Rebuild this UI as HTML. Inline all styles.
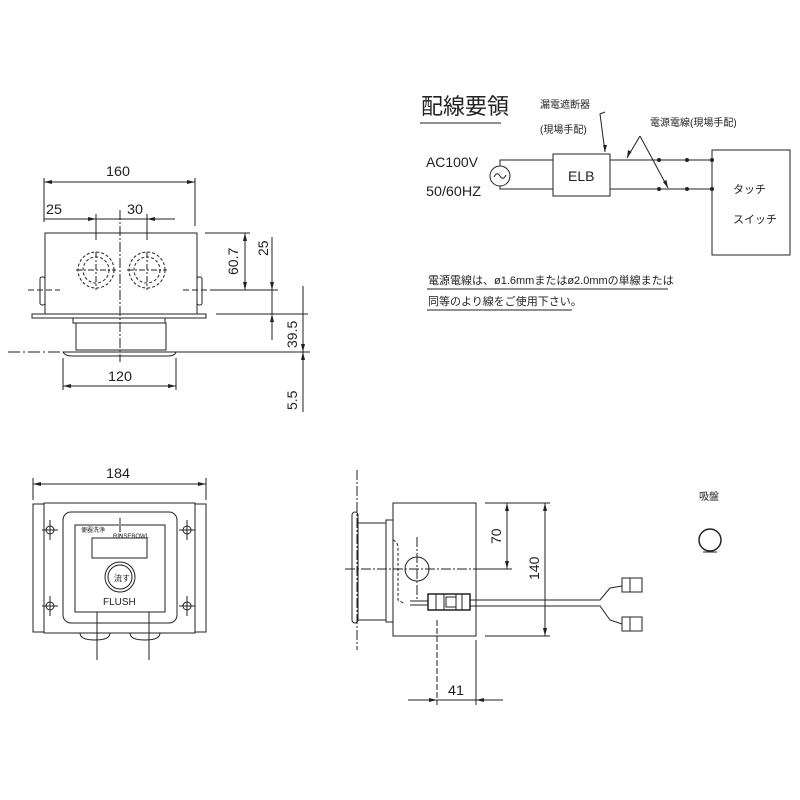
<!DOCTYPE html>
<html><head><meta charset="utf-8"><style>
body{margin:0;background:#fff}
svg{display:block}
text{font-family:"Liberation Sans","Noto Sans CJK JP",sans-serif;fill:#222}
</style></head><body>
<svg width="800" height="800" viewBox="0 0 800 800" xmlns="http://www.w3.org/2000/svg">
<g stroke="#222" stroke-width="1" fill="none">
<!-- TOP VIEW -->
<line x1="44" y1="178" x2="44" y2="222"/><line x1="195" y1="178" x2="195" y2="226"/>
<line x1="44" y1="182" x2="195" y2="182"/>
<line x1="44" y1="219" x2="175" y2="219"/>
<line x1="96" y1="214" x2="96" y2="240"/><line x1="147" y1="214" x2="147" y2="240"/>
<rect x="45" y="233" width="152" height="81"/>
<rect x="32" y="314" width="174" height="4"/>
<rect x="40" y="277" width="5" height="28" rx="2"/><rect x="197" y="277" width="5" height="28" rx="2"/>
<circle cx="96" cy="270" r="18" stroke-dasharray="3 2"/><circle cx="96" cy="270" r="13" stroke-dasharray="3 2"/>
<circle cx="147" cy="270" r="18" stroke-dasharray="3 2"/><circle cx="147" cy="270" r="13" stroke-dasharray="3 2"/>
<line x1="76" y1="270" x2="116" y2="270" stroke-dasharray="6 2 2 2"/><line x1="96" y1="252" x2="96" y2="290" stroke-dasharray="6 2 2 2"/>
<line x1="127" y1="270" x2="167" y2="270" stroke-dasharray="6 2 2 2"/><line x1="147" y1="252" x2="147" y2="290" stroke-dasharray="6 2 2 2"/>
<line x1="120" y1="210" x2="120" y2="362" stroke-dasharray="10 2 2 2"/>
<line x1="28" y1="290" x2="60" y2="290" stroke-dasharray="6 3"/><line x1="183" y1="290" x2="215" y2="290" stroke-dasharray="6 3"/>
<path d="M73 318 L73 323 L165 323 L165 318"/>
<rect x="76" y="323" width="90" height="27"/>
<path d="M63 352 Q65 356 72 356 L168 356 Q175 356 176 352 Z"/>
<line x1="8" y1="352" x2="60" y2="352" stroke-dasharray="12 3 2 3"/>
<line x1="176" y1="352" x2="310" y2="352"/>
<line x1="63" y1="358" x2="63" y2="390"/><line x1="176" y1="358" x2="176" y2="390"/>
<line x1="63" y1="386" x2="176" y2="386"/>
<line x1="205" y1="233" x2="250" y2="233"/>
<line x1="215" y1="290" x2="278" y2="290"/>
<line x1="216" y1="314" x2="308" y2="314"/>
<line x1="245" y1="233" x2="245" y2="290"/>
<line x1="272" y1="237" x2="272" y2="340"/>
<line x1="303" y1="286" x2="303" y2="412"/>
<!-- FRONT VIEW -->
<line x1="33" y1="478" x2="33" y2="500"/><line x1="206" y1="478" x2="206" y2="500"/>
<line x1="33" y1="484" x2="206" y2="484"/>
<rect x="33" y="504" width="11" height="128"/><rect x="195" y="504" width="11" height="128"/>
<rect x="44" y="503" width="151" height="130"/>
<rect x="63" y="512" width="114" height="111" rx="8"/>
<rect x="75" y="525" width="90" height="87"/>
<rect x="92" y="538" width="55" height="20"/>
<circle cx="120" cy="577" r="15"/><circle cx="120" cy="577" r="12"/>
<path d="M80 633 Q80 640 95 640 Q110 640 110 633"/><path d="M130 633 Q130 640 145 640 Q160 640 160 633"/>
<line x1="97" y1="612" x2="97" y2="660"/><line x1="149" y1="612" x2="149" y2="660"/>
<line x1="120" y1="518" x2="120" y2="536" stroke-dasharray="6 2"/>
<circle cx="50" cy="530" r="4"/><circle cx="187" cy="530" r="4"/><circle cx="50" cy="606" r="4"/><circle cx="187" cy="606" r="4"/>
<path d="M42 530h16M50 520v20M179 530h16M187 520v20M42 606h16M50 596v20M179 606h16M187 596v20"/>
<!-- SIDE VIEW -->
<line x1="357" y1="470" x2="357" y2="650" stroke-dasharray="10 2 2 2"/>
<rect x="352" y="512" width="6" height="111" rx="3"/>
<rect x="358" y="523" width="28" height="97"/>
<rect x="386" y="520" width="7" height="102"/>
<rect x="393" y="503" width="83" height="133"/>
<line x1="345" y1="569" x2="476" y2="569" stroke-dasharray="10 2 2 2"/>
<line x1="417" y1="537" x2="417" y2="600" stroke-dasharray="10 2 2 2"/>
<circle cx="417" cy="569" r="12"/>
<path d="M393 540 Q398 542 398 548 L398 600 L405 604" stroke-dasharray="3 2"/>
<rect x="428" y="594" width="42" height="16" stroke-width="1.5"/>
<path d="M436 594v16M444 594v16M456 594v16M462 594v16"/>
<rect x="446" y="597" width="10" height="10"/>
<path d="M410 601 L428 601 M410 605 L428 605"/>
<path d="M470 600 L600 600 L610 588 L622 586 M470 606 L600 606 L610 620 L622 624"/>
<rect x="622" y="578" width="20" height="14"/><rect x="622" y="617" width="20" height="14"/>
<path d="M630 578v14M630 617v14"/>
<line x1="485" y1="503" x2="550" y2="503"/><line x1="485" y1="636" x2="550" y2="636"/>
<line x1="476" y1="569" x2="512" y2="569"/>
<line x1="507" y1="503" x2="507" y2="569"/>
<line x1="545" y1="503" x2="545" y2="636"/>
<line x1="437" y1="620" x2="437" y2="705" stroke-dasharray="6 2"/>
<line x1="476" y1="640" x2="476" y2="705"/>
<line x1="408" y1="700" x2="503" y2="700"/>
<circle cx="710" cy="540" r="11" stroke-width="1.5"/>
<path d="M703 552 L717 552"/>
<!-- WIRING -->
<line x1="420" y1="123" x2="501" y2="123"/>
<circle cx="500" cy="176" r="10"/>
<path d="M494 177 Q497 171 500 176 Q503 181 506 175"/>
<path d="M500 166 L500 160 L553 160 M500 186 L500 189 L553 189"/>
<rect x="553" y="154" width="57" height="42"/>
<path d="M610 160 L712 160 M610 189 L712 189"/>
<rect x="712" y="150" width="78" height="105"/>
<path d="M605 112 L600 114 L605 152"/>
<path d="M640 136 L627 158 M640 136 L668 188"/>
<line x1="427" y1="289" x2="668" y2="289"/>
<line x1="427" y1="310" x2="572" y2="310"/>
</g>
<g fill="#222">
<circle cx="659" cy="160" r="2"/><circle cx="687" cy="160" r="2"/><circle cx="712" cy="160" r="2"/>
<circle cx="659" cy="189" r="2"/><circle cx="687" cy="189" r="2"/><circle cx="712" cy="189" r="2"/>
<path d="M627 158l1-8 3.5 2zM668 188l-5-6 3.5-2z"/>
<path d="M44 182l8-2v4zM195 182l-8-2v4zM63 386l8-2v4zM176 386l-8-2v4zM33 484l8-2v4zM206 484l-8-2v4zM245 233l-2 8h4zM245 290l-2-8h4zM272 290l-2-8h4zM272 314l-2 8h4zM303 352l-2-8h4zM303 352l-2 8h4zM507 503l-2 8h4zM507 569l-2-8h4zM545 503l-2 8h4zM545 636l-2-8h4zM437 700l-8-2v4zM476 700l8-2v4zM96 219l-8-2v4zM147 219l8-2v4zM605 152l-2-7h4z"/>
</g>
<g font-size="14">
<text x="106" y="176" textLength="24" lengthAdjust="spacingAndGlyphs">160</text>
<text x="46" y="214" textLength="16" lengthAdjust="spacingAndGlyphs">25</text><text x="127" y="214" textLength="16" lengthAdjust="spacingAndGlyphs">30</text>
<text x="108" y="381" textLength="24" lengthAdjust="spacingAndGlyphs">120</text>
<text x="106" y="478" textLength="24" lengthAdjust="spacingAndGlyphs">184</text>
<text x="448" y="695" textLength="16" lengthAdjust="spacingAndGlyphs">41</text>
<text transform="translate(238,275) rotate(-90)">60.7</text>
<text transform="translate(268,256) rotate(-90)">25</text>
<text transform="translate(297,348) rotate(-90)">39.5</text>
<text transform="translate(297,410) rotate(-90)">5.5</text>
<text transform="translate(501,544) rotate(-90)">70</text>
<text transform="translate(539,580) rotate(-90)">140</text>
<text x="426" y="167" textLength="52" lengthAdjust="spacingAndGlyphs">AC100V</text>
<text x="426" y="196" textLength="55" lengthAdjust="spacingAndGlyphs">50/60HZ</text>
<text x="568" y="181">ELB</text>
</g>
<text x="421" y="114" font-size="22">配線要領</text>
<text x="540" y="108" font-size="10">漏電遮断器</text>
<text x="540" y="133" font-size="10">(現場手配)</text>
<text x="650" y="126" font-size="10">電源電線(現場手配)</text>
<text x="733" y="193" font-size="11">タッチ</text>
<text x="733" y="223" font-size="11">スイッチ</text>
<text x="428" y="284" font-size="11">電源電線は、ø1.6mmまたはø2.0mmの単線または</text>
<text x="428" y="305" font-size="11">同等のより線をご使用下さい。</text>
<text x="699" y="500" font-size="10">吸盤</text>
<text x="81" y="532" font-size="6">便器洗浄</text>
<text x="113" y="538" font-size="6">RINSEBOWL</text>
<text x="114" y="581" font-size="8">流す</text>
<text x="103" y="605" font-size="10">FLUSH</text>
</svg>
</body></html>
